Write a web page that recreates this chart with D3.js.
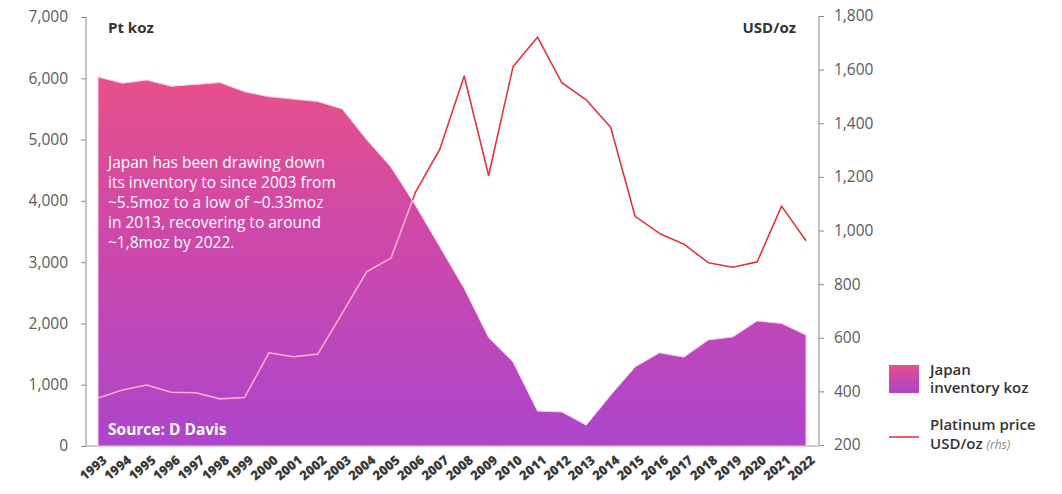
<!DOCTYPE html>
<html>
<head>
<meta charset="utf-8">
<script src="https://cdn.jsdelivr.net/npm/d3@7"></script>
<style>
  html, body { margin: 0; padding: 0; background: #fff; }
  svg { display: block; font-family: "Open Sans", Lato, sans-serif; }
</style>
</head>
<body>
<svg id="chart" width="1062" height="494"></svg>
<script>
// Years on the category axis
const years = d3.range(1993, 2023).map(String);

// Japan platinum inventory, thousand ounces (left axis)
const inventoryKoz = [
  6020, 5920, 5970, 5870, 5900, 5930, 5780, 5700, 5660, 5620,
  5500, 5000, 4550, 3930, 3250, 2570, 1770, 1370, 570, 555,
  340, 830, 1290, 1520, 1450, 1730, 1780, 2040, 2000, 1810
];

// Platinum price, USD per ounce (right axis)
const priceUsd = [
  375, 405, 424, 397, 395, 372, 377, 544, 529, 539,
  691, 846, 897, 1142, 1303, 1576, 1205, 1611, 1721, 1551,
  1487, 1385, 1053, 989, 949, 880, 863, 883, 1091, 962
];

// Tick values for both value axes
const leftTicks = d3.range(0, 7001, 1000);
const leftMinor = d3.range(0, 7001, 200);
const rightTicks = d3.range(200, 1801, 200);
const rightMinor = d3.range(200, 1801, 40);

const svg = d3.select("#chart");

const x = d3.scalePoint().domain(years).range([98, 806]);
const yL = d3.scaleLinear().domain([0, 7000]).range([446, 17]);
const yR = d3.scaleLinear().domain([200, 1800]).range([445, 16]);

const axisLeftX = 86, axisRightX = 819;

// Gradients
const defs = svg.append("defs");
function addGradient(id) {
  const g = defs.append("linearGradient").attr("id", id)
    .attr("x1", 0).attr("y1", 0).attr("x2", 0).attr("y2", 1);
  g.append("stop").attr("offset", "0%").attr("stop-color", "#e8508a");
  g.append("stop").attr("offset", "45%").attr("stop-color", "#cc48aa");
  g.append("stop").attr("offset", "100%").attr("stop-color", "#ad45cc");
}
addGradient("invGrad");
addGradient("legGrad");

// Baseline
svg.append("line")
  .attr("x1", axisLeftX).attr("x2", axisRightX)
  .attr("y1", yL(0)).attr("y2", yL(0))
  .attr("stroke", "#9a9a9a").attr("stroke-width", 1);

// Price line drawn first (red), area on top, then the part inside the area re-drawn in pale pink
const line = d3.line()
  .x((d, i) => x(years[i]))
  .y(d => yR(d));

const area = d3.area()
  .x((d, i) => x(years[i]))
  .y0(yL(0))
  .y1(d => yL(d));

svg.append("path")
  .datum(priceUsd)
  .attr("d", line)
  .attr("fill", "none")
  .attr("stroke", "#e2363f")
  .attr("stroke-width", 1.6)
  .attr("stroke-linejoin", "round");

svg.append("path")
  .datum(inventoryKoz)
  .attr("d", area)
  .attr("fill", "url(#invGrad)")
  .attr("stroke", "#f6cbe8")
  .attr("stroke-width", 1);

defs.append("clipPath").attr("id", "areaClip")
  .append("path").datum(inventoryKoz).attr("d", area);

svg.append("path")
  .datum(priceUsd)
  .attr("d", line)
  .attr("clip-path", "url(#areaClip)")
  .attr("fill", "none")
  .attr("stroke", "#f8b0cc")
  .attr("stroke-width", 1.6)
  .attr("stroke-linejoin", "round");

// Left axis
const gL = svg.append("g").attr("transform", `translate(${axisLeftX},0)`);
gL.call(d3.axisLeft(yL).tickValues(leftMinor).tickSize(2).tickFormat(""));
gL.call(d3.axisLeft(yL).tickValues(leftTicks).tickSize(5).tickPadding(13)
  .tickFormat(d3.format(",")));
gL.select(".domain").remove();
gL.append("line").attr("y1", yL(7000)).attr("y2", yL(0)).attr("stroke", "#8a8a8a");
gL.selectAll("line").attr("stroke", "#8a8a8a");
gL.selectAll("text").attr("fill", "#5a5a5a").style("font-size", "15.5px")
  .style("font-family", "'Open Sans', sans-serif");

// Right axis
const gR = svg.append("g").attr("transform", `translate(${axisRightX},0)`);
gR.call(d3.axisRight(yR).tickValues(rightMinor).tickSize(2).tickFormat(""));
gR.call(d3.axisRight(yR).tickValues(rightTicks).tickSize(5).tickPadding(10)
  .tickFormat(d3.format(",")));
gR.select(".domain").remove();
gR.append("line").attr("y1", yR(1800)).attr("y2", yR(200)).attr("stroke", "#8a8a8a");
gR.selectAll("line").attr("stroke", "#8a8a8a");
gR.selectAll("text").attr("fill", "#5a5a5a").style("font-size", "15.5px")
  .style("font-family", "'Open Sans', sans-serif");

// Year labels
svg.append("g").selectAll("text")
  .data(years)
  .join("text")
  .attr("transform", d => `translate(${x(d) + 7},${458}) rotate(-40)`)
  .attr("text-anchor", "end")
  .attr("dy", "0.35em")
  .attr("fill", "#3a3a3a")
  .style("font-size", "13px")
  .style("font-weight", "800")
  .text(d => d);

// Unit titles
svg.append("text").attr("x", 108).attr("y", 33)
  .attr("fill", "#333").style("font-size", "15px").style("font-weight", "700")
  .text("Pt koz");
svg.append("text").attr("x", 796).attr("y", 33).attr("text-anchor", "end")
  .attr("fill", "#333").style("font-size", "15px").style("font-weight", "700")
  .text("USD/oz");

// Annotation
const note = [
  "Japan has been drawing down",
  "its inventory to since 2003 from",
  "~5.5moz to a low of ~0.33moz",
  "in 2013, recovering to around",
  "~1,8moz by 2022."
];
svg.append("g").selectAll("text")
  .data(note)
  .join("text")
  .attr("x", 108)
  .attr("y", (d, i) => 168 + i * 20)
  .attr("fill", "#ffffff")
  .style("font-size", "15.5px")
  .text(d => d);

svg.append("text").attr("x", 108).attr("y", 435)
  .attr("fill", "#ffffff").style("font-size", "15.5px").style("font-weight", "700")
  .text("Source: D Davis");

// Legend
const leg = svg.append("g").style("font-size", "15px").style("font-weight", "600");
leg.append("rect").attr("x", 889).attr("y", 365).attr("width", 30).attr("height", 28)
  .attr("fill", "url(#legGrad)");
leg.append("text").attr("x", 930).attr("y", 375).attr("fill", "#333").text("Japan");
leg.append("text").attr("x", 930).attr("y", 393).attr("fill", "#333").text("inventory koz");
leg.append("line").attr("x1", 889).attr("x2", 919).attr("y1", 437).attr("y2", 437)
  .attr("stroke", "#e2363f").attr("stroke-width", 1.6);
leg.append("text").attr("x", 930).attr("y", 430).attr("fill", "#333").text("Platinum price");
const l2 = leg.append("text").attr("x", 930).attr("y", 449).attr("fill", "#333");
l2.append("tspan").text("USD/oz ");
l2.append("tspan").attr("fill", "#888").style("font-size", "12px")
  .style("font-style", "italic").style("font-weight", "400").text("(rhs)");
</script>
</body>
</html>
